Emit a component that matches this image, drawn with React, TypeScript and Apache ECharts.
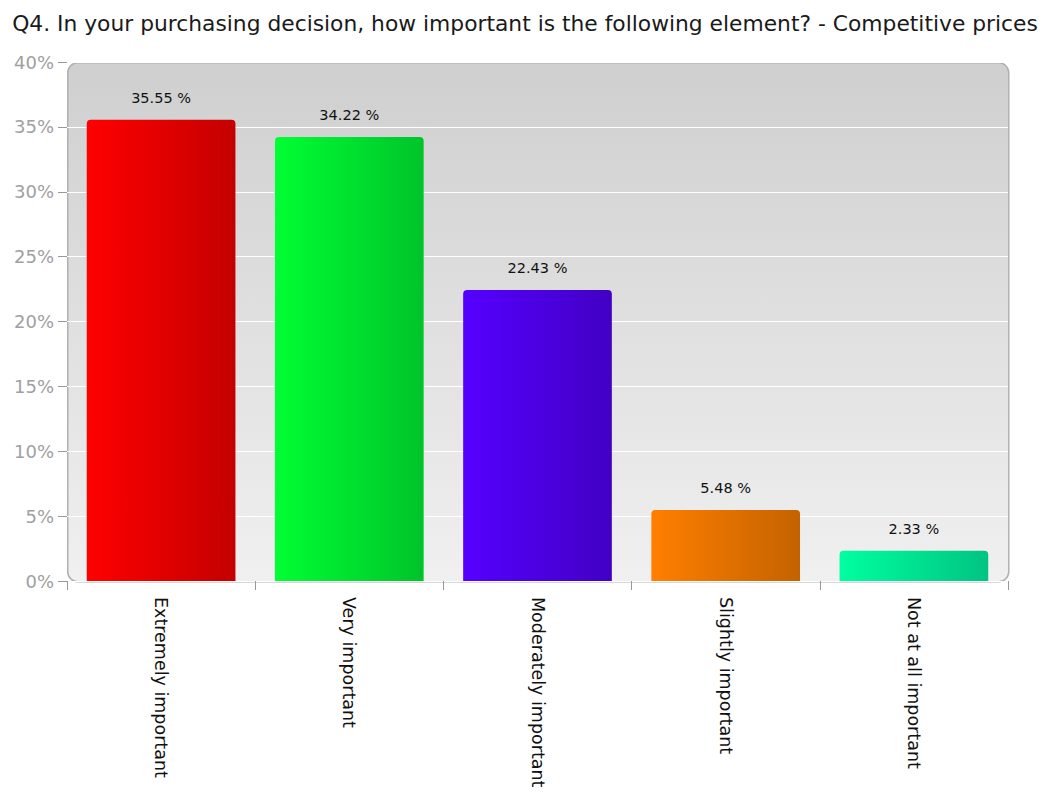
import React, { useEffect, useRef } from "react";
import * as echarts from "echarts";

const titleText = "Q4. In your purchasing decision, how important is the following element? - Competitive prices";
const categories = ["Extremely important", "Very important", "Moderately important", "Slightly important", "Not at all important"];
const values = [35.55, 34.22, 22.43, 5.48, 2.33];
const colorStarts = ["#ff0000", "#00ff33", "#5500ff", "#ff7f00", "#00ffa0"];
const colorEnds = ["#c40000", "#00c42a", "#4200c4", "#c46200", "#00c482"];

export default function App() {
  const ref = useRef<HTMLDivElement>(null);
  useEffect(() => {
    const chart = echarts.init(ref.current!, null, { renderer: "svg" });
    const gl = 67, gr = 42, gt = 62, gb = 218;
    const font = "DejaVu Sans, Tahoma, sans-serif";
    chart.setOption({
      animation: false,
      title: {
        text: titleText,
        left: "center",
        top: 7,
        textStyle: { fontFamily: font, fontSize: 21.8, fontWeight: "normal", color: "#1a1a1a" },
      },
      graphic: [
        {
          type: "rect",
          left: gl,
          top: gt,
          z: -10,
          shape: { width: 1050 - gl - gr, height: 799 - gt - gb, r: 10 },
          style: {
            fill: new echarts.graphic.LinearGradient(0, 0, 0, 1, [
              { offset: 0, color: "#cfcfcf" },
              { offset: 1, color: "#f0f0f0" },
            ]),
            stroke: "#b0b0b0",
            lineWidth: 1.5,
          },
        },
      ],
      grid: { left: gl, right: gr, top: gt, bottom: gb, containLabel: false },
      xAxis: {
        type: "category",
        data: categories,
        axisLine: { show: false },
        axisTick: { show: true, length: 9, lineStyle: { color: "#999" }, alignWithLabel: false },
        axisLabel: {
          rotate: -90,
          interval: 0,
          margin: 16,
          color: "#111",
          fontSize: 17.5,
          fontFamily: font,
        },
      },
      yAxis: {
        type: "value",
        min: 0,
        max: 40,
        interval: 5,
        axisLine: { show: false },
        axisTick: { show: true, length: 9, lineStyle: { color: "#999" } },
        axisLabel: {
          formatter: "{value}%",
          color: "#a0a0a0",
          fontSize: 18,
          margin: 13,
          fontFamily: font,
        },
        splitLine: { show: true, lineStyle: { color: "#ffffff", width: 1 } },
      },
      series: [
        {
          type: "bar",
          barCategoryGap: "21%",
          data: values.map((v, i) => ({
            value: v,
            itemStyle: {
              color: new echarts.graphic.LinearGradient(0, 0, 1, 0, [
                { offset: 0, color: colorStarts[i] },
                { offset: 1, color: colorEnds[i] },
              ]),
              borderRadius: [4, 4, 0, 0],
            },
          })),
          label: {
            show: true,
            position: "top",
            distance: 14,
            formatter: (p: any) => p.value.toFixed(2) + " %",
            color: "#111",
            fontSize: 14.5,
            fontFamily: font,
          },
        },
      ],
    });
    return () => chart.dispose();
  }, []);
  return <div ref={ref} style={{ width: 1050, height: 799, position: "absolute", left: 0, top: 0 }} />;
}
